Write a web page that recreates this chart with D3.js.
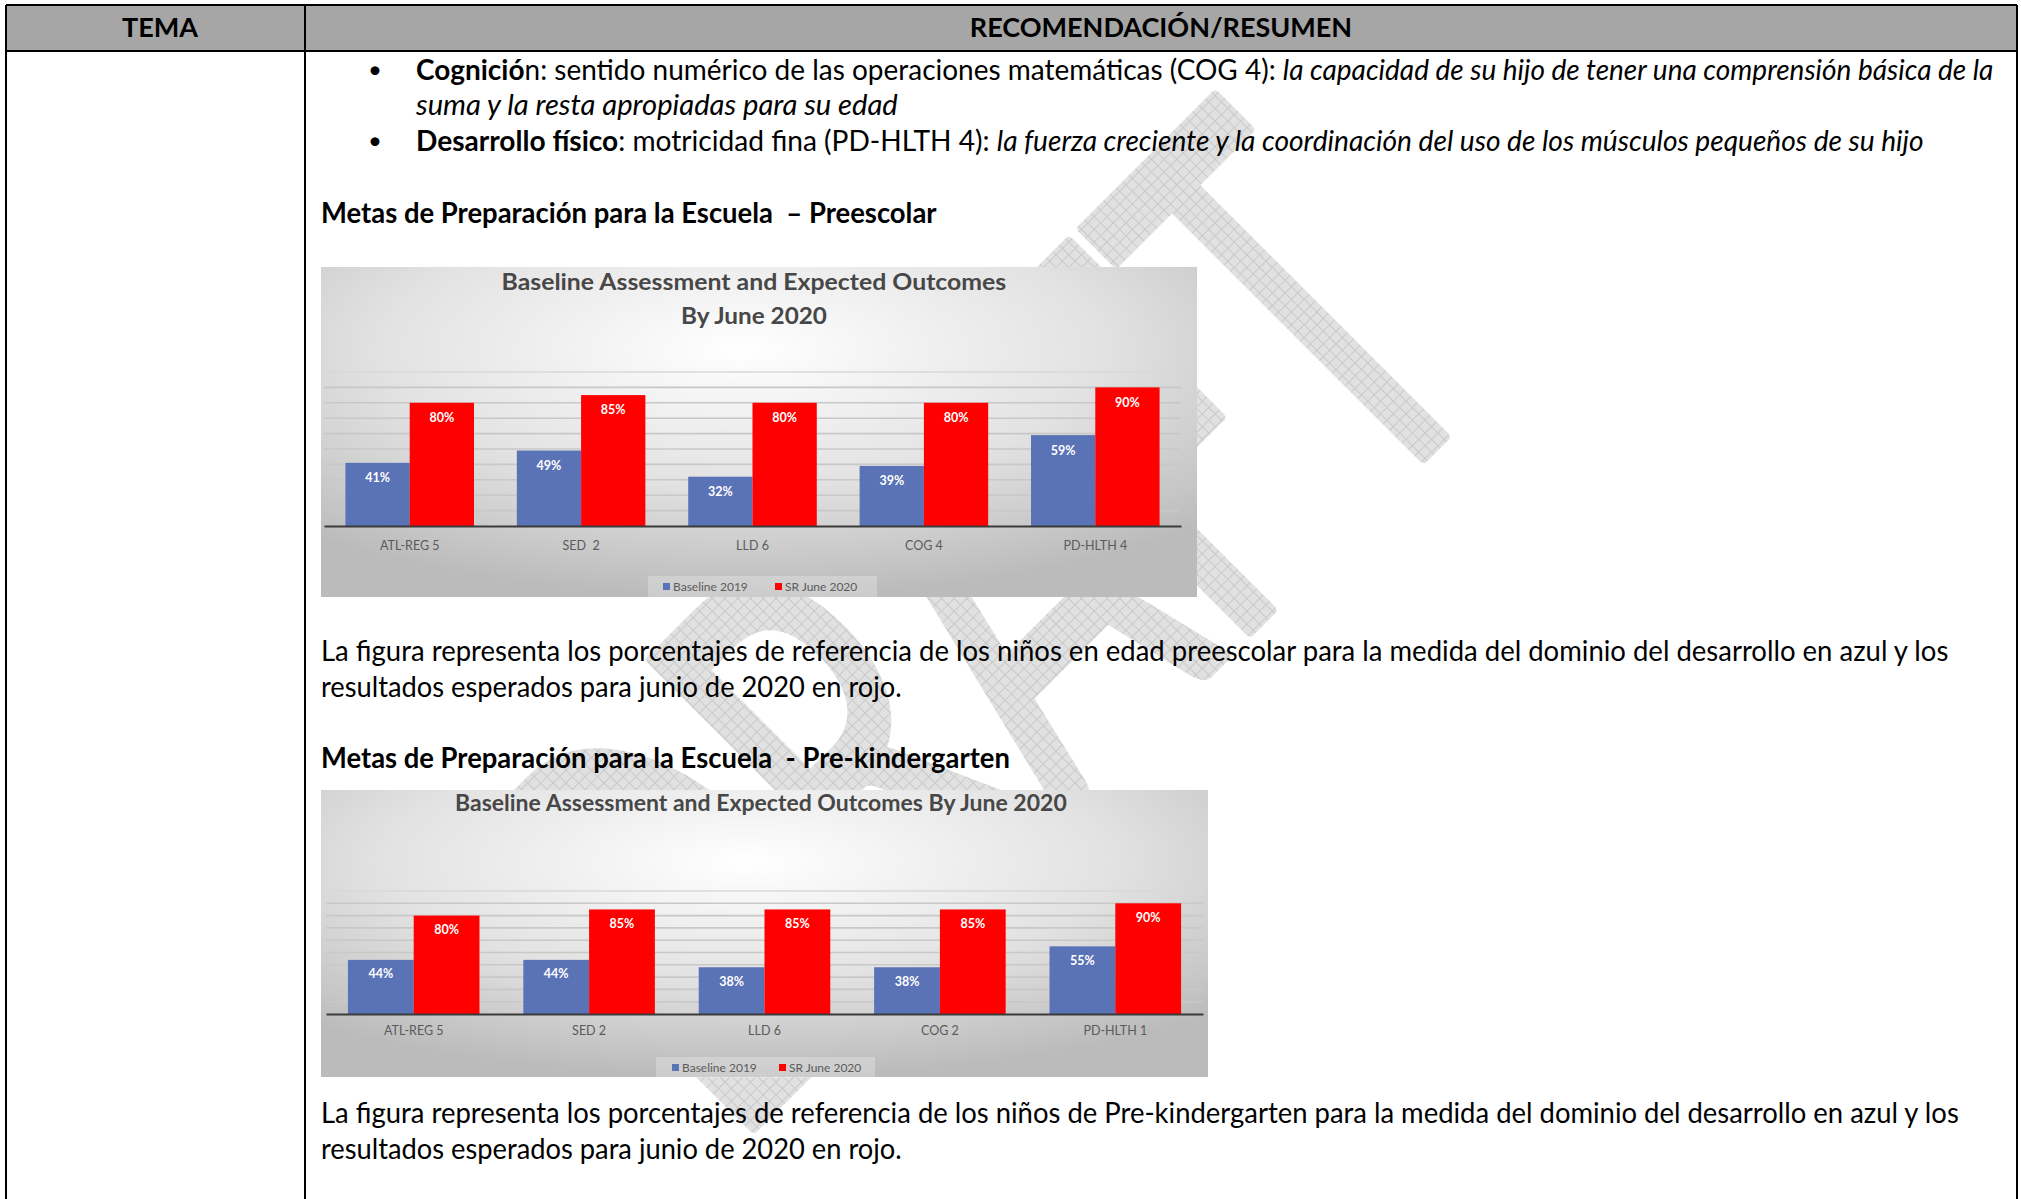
<!DOCTYPE html>
<html>
<head>
<meta charset="utf-8">
<script src="https://cdn.jsdelivr.net/npm/d3@7"></script>
<style>
  body { margin: 0; background: #fff; }
  svg { display: block; font-family: Lato, "Open Sans", sans-serif; }
  text { white-space: pre; }
</style>
</head>
<body>
<div id="page"></div>
<script>
// ---- data ----
const seriesNames = ['Baseline 2019', 'SR June 2020'];
const gridTicks = [10, 20, 30, 40, 50, 60, 70, 80, 90, 100];

// Preescolar
const preCategories = ['ATL-REG 5', 'SED  2', 'LLD 6', 'COG 4', 'PD-HLTH 4'];
const preBaseline = [41, 49, 32, 39, 59];
const preExpected = [80, 85, 80, 80, 90];

// Pre-kindergarten
const pkCategories = ['ATL-REG 5', 'SED 2', 'LLD 6', 'COG 2', 'PD-HLTH 1'];
const pkBaseline = [44, 44, 38, 38, 55];
const pkExpected = [80, 85, 85, 85, 90];

const seriesColors = ['#5a72b6', '#fe0000'];

const W = 2021, H = 1199;
const svg = d3.select('#page').append('svg')
  .attr('width', W)
  .attr('height', H);
const defs = svg.append('defs');

// hatched fill for the DRAFT watermark
const pat = defs.append('pattern')
  .attr('id', 'wmGrid')
  .attr('patternUnits', 'userSpaceOnUse')
  .attr('width', 9)
  .attr('height', 9);
pat.append('rect').attr('width', 9).attr('height', 9).attr('fill', '#e1e1e1');
pat.append('path')
  .attr('d', 'M0,0.5H9M0.5,0V9')
  .attr('stroke', '#c9c9c9')
  .attr('stroke-width', 1);

// chart background (Excel radial preset)
const bg = defs.append('radialGradient')
  .attr('id', 'chartBg')
  .attr('cx', 0.48).attr('cy', 0.25).attr('r', 0.75);
bg.append('stop').attr('offset', '0%').attr('stop-color', '#ffffff');
bg.append('stop').attr('offset', '55%').attr('stop-color', '#e2e2e2');
bg.append('stop').attr('offset', '100%').attr('stop-color', '#bbbbbb');

/**
 * Stretch a text element horizontally so it spans `width` px from x
 */
function fit(t, x, width) {
  const w = t.node().getComputedTextLength();
  if (!w) return;
  const k = width / w;
  t.attr('transform', `translate(${x},0) scale(${k},1) translate(${-x},0)`);
}

function richLine(x, y, parts, width, size = 29.3) {
  const t = svg.append('text')
    .attr('x', x)
    .attr('y', y)
    .attr('font-size', size)
    .attr('fill', '#000');
  parts.forEach(p => {
    t.append('tspan')
      .attr('font-weight', p.b ? 'bold' : null)
      .attr('font-style', p.i ? 'italic' : null)
      .text(p.t);
  });
  if (width) fit(t, x, width);
  return t;
}

// ---- watermark ----
svg.append('text')
  .attr('x', 730)
  .attr('y', 1150)
  .attr('transform', 'rotate(-45,730,1150)')
  .attr('font-size', 560)
  .attr('textLength', 1095)
  .attr('lengthAdjust', 'spacingAndGlyphs')
  .attr('fill', 'url(#wmGrid)')
  .attr('stroke', 'url(#wmGrid)')
  .attr('stroke-width', 12)
  .attr('stroke-linejoin', 'round')
  .text('DRAFT');

// ---- table frame ----
svg.append('rect')
  .attr('x', 6).attr('y', 5)
  .attr('width', 2011).attr('height', 46)
  .attr('fill', '#a6a6a6');

const borders = [
  [6, 5, 2017, 5], [6, 51, 2017, 51],
  [6, 5, 6, H], [305, 5, 305, H], [2017, 5, 2017, H]
];
svg.selectAll('line.border').data(borders).join('line')
  .attr('class', 'border')
  .attr('x1', d => d[0]).attr('y1', d => d[1])
  .attr('x2', d => d[2]).attr('y2', d => d[3])
  .attr('stroke', '#000')
  .attr('stroke-width', 2);

svg.append('text')
  .attr('x', 160).attr('y', 37)
  .attr('text-anchor', 'middle')
  .attr('font-size', 27).attr('font-weight', 'bold')
  .text('TEMA');
svg.append('text')
  .attr('x', 1161).attr('y', 37)
  .attr('text-anchor', 'middle')
  .attr('font-size', 27).attr('font-weight', 'bold')
  .text('RECOMENDACIÓN/RESUMEN');

// ---- body text ----
[78, 149].forEach(y => {
  svg.append('text').attr('x', 368).attr('y', y).attr('font-size', 24).text('•');
});

richLine(416, 80, [
  { t: 'Cognició', b: true },
  { t: 'n: sentido numérico de las operaciones matemáticas (COG 4): ' },
  { t: 'la capacidad de su hijo de tener una comprensión básica de la', i: true }
], 1578);
richLine(416, 115, [
  { t: 'suma y la resta apropiadas para su edad', i: true }
], 482);
richLine(416, 151, [
  { t: 'Desarrollo físico', b: true },
  { t: ': motricidad fina (PD-HLTH 4): ' },
  { t: 'la fuerza creciente y la coordinación del uso de los músculos pequeños de su hijo', i: true }
], 1508);

richLine(321, 223, [{ t: 'Metas de Preparación para la Escuela  – Preescolar', b: true }], 616);
richLine(321, 661, [{ t: 'La figura representa los porcentajes de referencia de los niños en edad preescolar para la medida del dominio del desarrollo en azul y los' }], 1628);
richLine(321, 697, [{ t: 'resultados esperados para junio de 2020 en rojo.' }], 581);

richLine(321, 768, [{ t: 'Metas de Preparación para la Escuela  - Pre-kindergarten', b: true }], 689);
richLine(321, 1123, [{ t: 'La figura representa los porcentajes de referencia de los niños de Pre-kindergarten para la medida del dominio del desarrollo en azul y los' }], 1639);
richLine(321, 1159, [{ t: 'resultados esperados para junio de 2020 en rojo.' }], 581);

// ---- charts ----
function drawChart(opt, categories, baseline, expected) {
  const g = svg.append('g');

  g.append('rect')
    .attr('x', opt.left).attr('y', opt.top)
    .attr('width', opt.right - opt.left)
    .attr('height', opt.bottom - opt.top)
    .attr('fill', 'url(#chartBg)');

  // title, centred on titleX and squeezed to the measured width
  opt.title.forEach((line, i) => {
    const x = opt.titleX - line.width / 2;
    const t = g.append('text')
      .attr('x', x)
      .attr('y', opt.titleY[i])
      .attr('font-size', 23)
      .attr('font-weight', 'bold')
      .attr('fill', '#474747')
      .text(line.text);
    fit(t, x, line.width);
  });

  const x0 = d3.scaleBand()
    .domain(categories)
    .range([opt.plotL, opt.plotR]);
  const bw = x0.bandwidth();
  const x1 = d3.scaleBand()
    .domain(seriesNames)
    .range([bw * 0.125, bw * 0.875]);
  const y = d3.scaleLinear()
    .domain([0, 100])
    .range([opt.base, opt.plotTop]);

  // horizontal gridlines
  g.selectAll('line.grid').data(gridTicks).join('line')
    .attr('class', 'grid')
    .attr('x1', opt.plotL).attr('x2', opt.plotR)
    .attr('y1', d => y(d)).attr('y2', d => y(d))
    .attr('stroke', d => d === 100 ? '#d8d8d8' : '#c8c8c8')
    .attr('stroke-width', 1.6);

  const rows = categories.map((c, i) => ({ cat: c, vals: [baseline[i], expected[i]] }));

  const groups = g.selectAll('g.cat').data(rows).join('g')
    .attr('class', 'cat')
    .attr('transform', d => `translate(${x0(d.cat)},0)`);

  const cells = groups.selectAll('g.bar')
    .data(d => d.vals.map((v, j) => ({ series: seriesNames[j], value: v, color: seriesColors[j] })))
    .join('g')
    .attr('class', 'bar');

  cells.append('rect')
    .attr('x', d => x1(d.series))
    .attr('y', d => y(d.value))
    .attr('width', x1.bandwidth())
    .attr('height', d => opt.base - y(d.value))
    .attr('fill', d => d.color);

  cells.append('text')
    .attr('x', d => x1(d.series) + x1.bandwidth() / 2)
    .attr('y', d => y(d.value) + opt.labelOffset)
    .attr('dy', '0.35em')
    .attr('text-anchor', 'middle')
    .attr('font-size', 12.5)
    .attr('font-weight', 'bold')
    .attr('fill', '#fff')
    .text(d => `${d.value}%`);

  // category axis
  const axis = g.append('g')
    .attr('transform', `translate(0,${opt.base})`)
    .call(d3.axisBottom(x0).tickSize(0).tickSizeOuter(0).tickPadding(opt.tickPad));
  axis.select('.domain')
    .attr('stroke', '#3a3a3a')
    .attr('stroke-width', 2.2);
  axis.selectAll('text')
    .attr('font-family', 'Lato, sans-serif')
    .attr('font-size', 12.5)
    .attr('fill', '#5b5b5b');

  // legend
  g.append('rect')
    .attr('x', opt.legend.x0).attr('y', opt.legend.y - 11)
    .attr('width', opt.legend.x1 - opt.legend.x0).attr('height', 21)
    .attr('fill', '#ffffff').attr('fill-opacity', 0.25);

  seriesNames.forEach((name, i) => {
    g.append('rect')
      .attr('x', opt.legend.sq[i]).attr('y', opt.legend.y - 4)
      .attr('width', 7).attr('height', 7)
      .attr('fill', seriesColors[i]);
    g.append('text')
      .attr('x', opt.legend.sq[i] + 10).attr('y', opt.legend.y)
      .attr('dy', '0.35em')
      .attr('font-size', 12)
      .attr('fill', '#5b5b5b')
      .text(name);
  });
}

drawChart({
  left: 321, right: 1197, top: 267, bottom: 597,
  title: [
    { text: 'Baseline Assessment and Expected Outcomes', width: 505 },
    { text: 'By June 2020', width: 146 }
  ],
  titleX: 754, titleY: [290, 324],
  plotL: 324, plotR: 1181, base: 526, plotTop: 372,
  labelOffset: 15, tickPad: 15,
  legend: { x0: 648, x1: 877, y: 587, sq: [663, 775] }
}, preCategories, preBaseline, preExpected);

drawChart({
  left: 321, right: 1208, top: 790, bottom: 1077,
  title: [
    { text: 'Baseline Assessment and Expected Outcomes By June 2020', width: 612 }
  ],
  titleX: 761, titleY: [811],
  plotL: 326, plotR: 1203, base: 1014, plotTop: 891,
  labelOffset: 14, tickPad: 12,
  legend: { x0: 656, x1: 875, y: 1068, sq: [672, 779] }
}, pkCategories, pkBaseline, pkExpected);
</script>
</body>
</html>
